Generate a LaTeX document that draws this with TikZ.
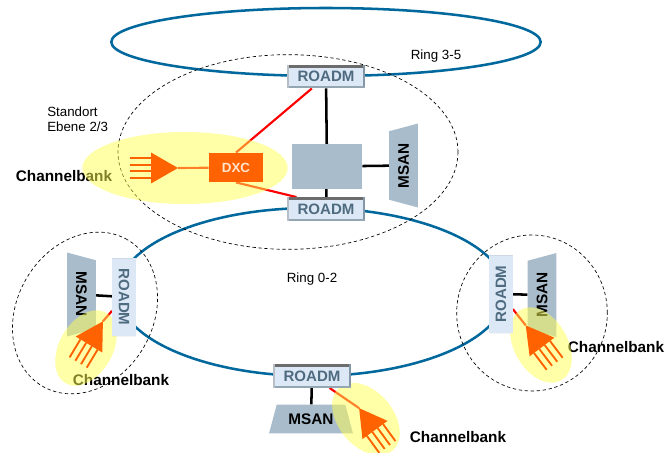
\documentclass[tikz,border=0pt]{standalone}
\usepackage{fontspec}
\setmainfont{Liberation Sans}
\usepackage{xcolor}
\usetikzlibrary{shapes.geometric}
\definecolor{rb}{RGB}{0, 104, 157}
\definecolor{gy}{RGB}{169, 188, 203}
\definecolor{og}{RGB}{255, 98, 0}
\definecolor{yl}{RGB}{255, 255, 80}
\definecolor{rt}{RGB}{79, 107, 128}
\definecolor{rf}{RGB}{220, 232, 246}
\pgfdeclarelayer{glow}
\pgfdeclarelayer{front}
\pgfsetlayers{main,glow,front}
\tikzset{
    ring/.style={ellipse, draw=rb, line width=1.9pt, inner sep=0pt},
    site/.style={ellipse, draw=black, line width=0.5pt, dash pattern=on 2.5pt off 2pt, inner sep=0pt},
    halo/.style={ellipse, fill=yl, fill opacity=0.5, inner sep=0pt},
    roadm/.style={rectangle, minimum width=58.5pt, minimum height=17.5pt, inner sep=0pt, fill=rf, text=rt,
        font=\fontsize{11.3}{13}\selectfont\bfseries,
        path picture={
            \fill[gray!85!black] (path picture bounding box.north west) rectangle ([yshift=-2.2pt]path picture bounding box.north east);
            \fill[rt!70] (path picture bounding box.north east) rectangle ([xshift=-1.8pt]path picture bounding box.south east);
            \fill[rt!60] (path picture bounding box.south west) rectangle ([yshift=1.3pt]path picture bounding box.south east);
            \fill[rf!60!gray] (path picture bounding box.north west) rectangle ([xshift=1.3pt]path picture bounding box.south west);
        }},
    msan/.style={trapezium, trapezium stretches=true, trapezium left angle=65, trapezium right angle=65,
        minimum width=63pt, minimum height=21.5pt, inner sep=0pt, fill=gy,
        font=\fontsize{11.5}{13}\selectfont\bfseries},
    bank/.style={font=\fontsize{11.5}{13}\selectfont\bfseries},
    lbl/.style={font=\fontsize{10}{11.25}\selectfont},
    link/.style={black, line width=1.9pt},
    feed/.style={red, line width=1.6pt},
    amp/.pic={
        \fill[og] (0,-15.5) -- (27,0) -- (0,15.5) -- cycle;
        \foreach \t in {-10,-3.3,3.3,10}
            \draw[og, line width=1.4pt] (0,\t) -- (-21,\t);
        \coordinate (-tip) at (27,0);
    }
}

\begin{document}
\begin{tikzpicture}[x=0.75pt, y=-0.75pt]
        \useasboundingbox (0,0) rectangle (665,453);
        % rings and sites
        \node[ring, minimum width=322pt, minimum height=51pt] (ringA) at (326,42) {};
        \node[ring, minimum width=291pt, minimum height=126pt] (ringB) at (312,292) {};
        \node[site, minimum width=255pt, minimum height=146pt] (siteA) at (288,152) {};
        \node[site, minimum width=127pt, minimum height=102pt, rotate=60] (siteB) at (85,313) {};
        \node[site, minimum width=113pt, minimum height=117pt] (siteC) at (532,313) {};

        \node[lbl] (ringAlabel) at (436,56) {Ring 3-5};
        \node[lbl] (ringBlabel) at (312,279) {Ring 0-2};
        \node[lbl, align=left, anchor=west, inner sep=0pt] (standort) at (47,119) {Standort\\Ebene 2/3};

        \node[bank] (bankA) at (64,176) {Channelbank};
        \node[bank] (bankB) at (121,380) {Channelbank};
        \node[bank] (bankC) at (616,347) {Channelbank};
        \node[bank] (bankD) at (458,437) {Channelbank};

        \node[rectangle, fill=gy, minimum width=52.5pt, minimum height=33.5pt] (box) at (327,166.5) {};
        \node[msan, rotate=90] (msanA) at (403.5,165.5) {MSAN};
        \node[msan, rotate=-90] (msanB) at (81.5,294.5) {MSAN};
        \node[msan, rotate=90] (msanC) at (542,295) {MSAN};
        \node[msan] (msanD) at (311,419) {MSAN};

        \begin{pgfonlayer}{front}
        \node[roadm] (roadmA) at (326,76.5) {ROADM};
        \node[roadm] (roadmB) at (326,209) {ROADM};
        \node[roadm, rotate=-90] (roadmC) at (124,297) {ROADM};
        \node[roadm, rotate=90] (roadmD) at (501,294) {ROADM};
        \node[roadm] (roadmE) at (312,376) {ROADM};
        \node[rectangle, fill=og, text=orange!20, minimum width=40.5pt, minimum height=22pt, inner sep=0pt,
            font=\fontsize{10}{12}\selectfont\bfseries] (dxc) at (236,167.5) {DXC};
        \pic (ampA) at (151,168) {amp};
        \pic[rotate=59] (ampB) at (89,344.5) {amp};
        \pic[rotate=127] (ampC) at (542,347) {amp};
        \pic[rotate=126] (ampD) at (375,430) {amp};
        \end{pgfonlayer}

        \draw[link] (roadmA) -- (box);
        \draw[link] (box) -- (roadmB);
        \draw[link] (box) -- (msanA);
        \draw[link] (roadmC) -- (msanB);
        \draw[link] (roadmD) -- (msanC);
        \draw[link] (roadmE) -- (msanD);

        \draw[feed] (dxc.north) -- (roadmA);
        \draw[feed] (dxc.south) -- (roadmB.158);
        \draw[feed] (ampA-tip) -- (dxc);
        \draw[feed] (ampB-tip) -- (roadmC);
        \draw[feed] (ampC-tip) -- (roadmD);
        \draw[feed] (ampD-tip) -- (roadmE);

        \begin{pgfonlayer}{glow}
        \node[halo, minimum width=154pt, minimum height=54pt] (haloA) at (185,168) {};
        \node[halo, minimum width=61pt, minimum height=40pt, rotate=60] (haloB) at (86,348) {};
        \node[halo, minimum width=61pt, minimum height=40pt, rotate=-60] (haloC) at (541,345) {};
        \node[halo, minimum width=62pt, minimum height=41pt, rotate=-50] (haloD) at (366,419) {};
        \end{pgfonlayer}
    \end{tikzpicture}
\end{document}
